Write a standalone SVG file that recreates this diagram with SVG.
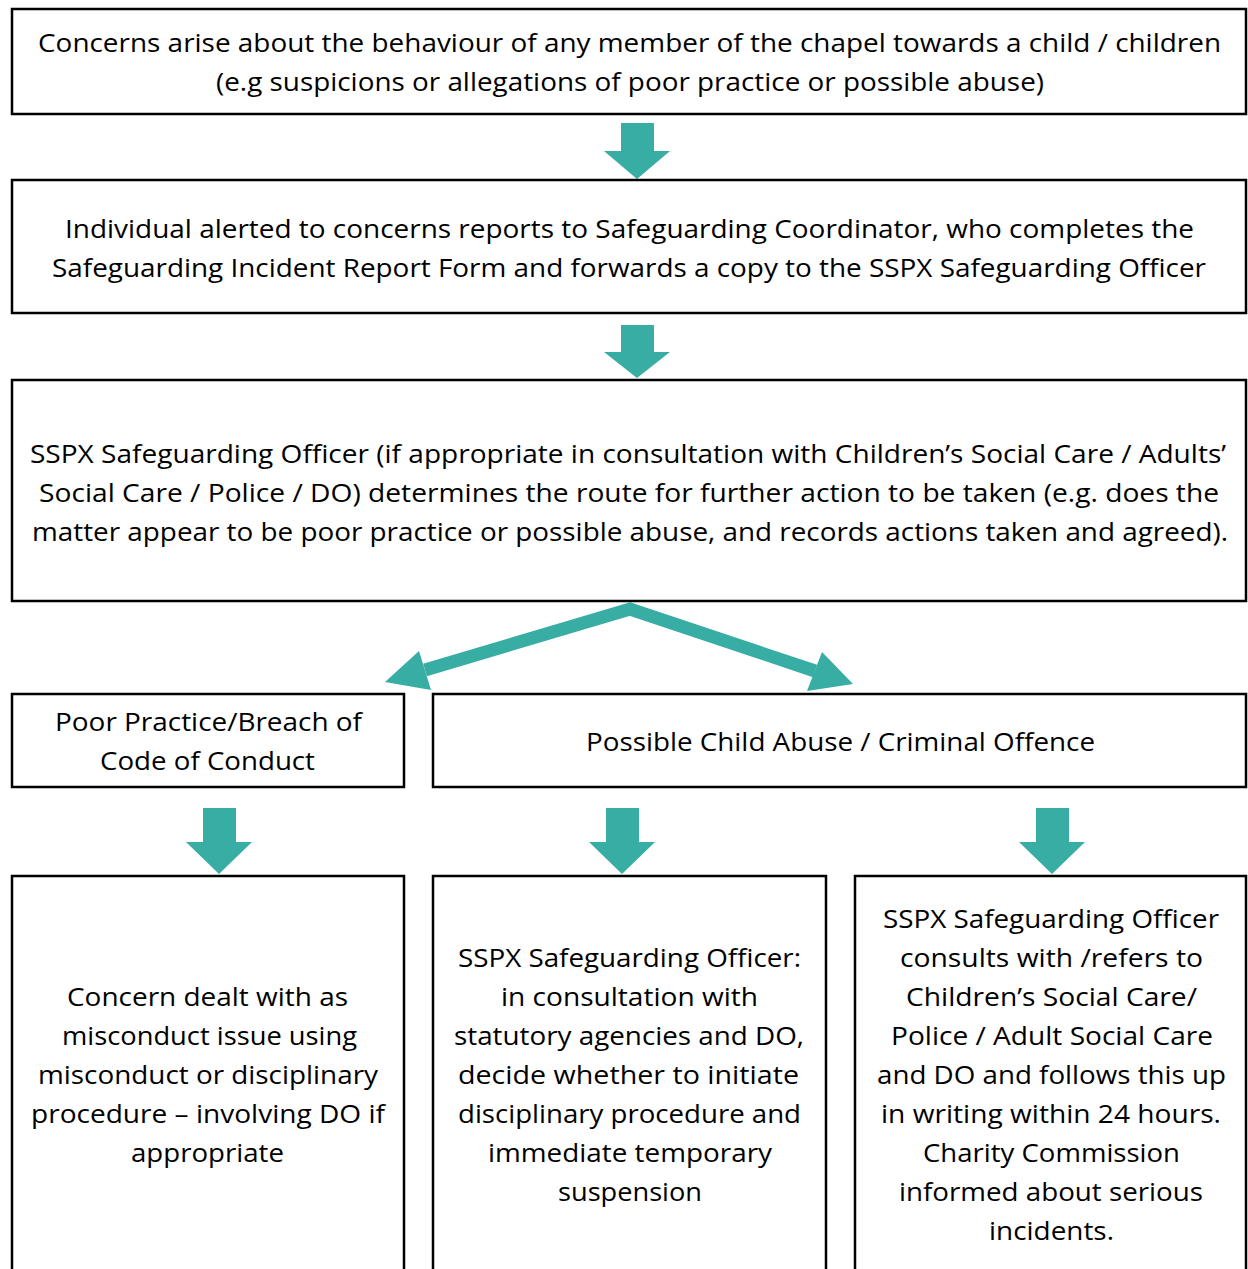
<svg xmlns="http://www.w3.org/2000/svg" width="1248" height="1269" viewBox="0 0 1248 1269">
<style>
.box{fill:#fff;stroke:#000;stroke-width:2.5}
.t{font-family:"Open Sans","Liberation Sans",sans-serif;font-size:26px;fill:#000;text-anchor:middle}
.ar{fill:#37ada4}
</style>
<rect width="1248" height="1269" fill="#fff"/>
<g id="connectors">
<polygon class="ar" points="621,123 654,123 654,151 670,151 637,179 604,151 621,151"/>
<polygon class="ar" points="621,325 654,325 654,352 670,352 637,378 604,352 621,352"/>
<polyline points="425,670 630,609 815,671" fill="none" stroke="#37ada4" stroke-width="13" stroke-linejoin="miter"/>
<polygon class="ar" points="419,651 431,690 385,682"/>
<polygon class="ar" points="822,652 807,691 853,684"/>
<polygon class="ar" points="203,808 236,808 236,842 252,842 219,874 186,842 203,842"/>
<polygon class="ar" points="606,808 639,808 639,842 655,842 622,874 589,842 606,842"/>
<polygon class="ar" points="1036,808 1069,808 1069,842 1085,842 1052,874 1019,842 1036,842"/>
</g>
<g id="n1">
<rect class="box" x="12" y="9" width="1234" height="105"/>
<text class="t" x="629.5" y="52" textLength="1183" lengthAdjust="spacingAndGlyphs">Concerns arise about the behaviour of any member of the chapel towards a child / children</text>
<text class="t" x="630" y="91" textLength="828" lengthAdjust="spacingAndGlyphs">(e.g suspicions or allegations of poor practice or possible abuse)</text>
</g>
<g id="n2">
<rect class="box" x="12" y="180" width="1234" height="133"/>
<text class="t" x="629.5" y="238" textLength="1129" lengthAdjust="spacingAndGlyphs">Individual alerted to concerns reports to Safeguarding Coordinator, who completes the</text>
<text class="t" x="629" y="277" textLength="1154" lengthAdjust="spacingAndGlyphs">Safeguarding Incident Report Form and forwards a copy to the SSPX Safeguarding Officer</text>
</g>
<g id="n3">
<rect class="box" x="12" y="380" width="1234" height="221"/>
<text class="t" x="628" y="463" textLength="1196" lengthAdjust="spacingAndGlyphs">SSPX Safeguarding Officer (if appropriate in consultation with Children’s Social Care / Adults’</text>
<text class="t" x="629" y="502" textLength="1180" lengthAdjust="spacingAndGlyphs">Social Care / Police / DO) determines the route for further action to be taken (e.g. does the</text>
<text class="t" x="630" y="541" textLength="1196" lengthAdjust="spacingAndGlyphs">matter appear to be poor practice or possible abuse, and records actions taken and agreed).</text>
</g>
<g id="n4">
<rect class="box" x="12" y="694" width="392" height="93"/>
<text class="t" x="208.5" y="731" textLength="307" lengthAdjust="spacingAndGlyphs">Poor Practice/Breach of</text>
<text class="t" x="207.5" y="770" textLength="215" lengthAdjust="spacingAndGlyphs">Code of Conduct</text>
</g>
<g id="n5">
<rect class="box" x="433" y="694" width="813" height="93"/>
<text class="t" x="840.5" y="751" textLength="509" lengthAdjust="spacingAndGlyphs">Possible Child Abuse / Criminal Offence</text>
</g>
<g id="n6">
<rect class="box" x="12" y="876" width="392" height="420"/>
<text class="t" x="207.5" y="1006" textLength="281" lengthAdjust="spacingAndGlyphs">Concern dealt with as</text>
<text class="t" x="209.5" y="1045" textLength="295" lengthAdjust="spacingAndGlyphs">misconduct issue using</text>
<text class="t" x="208" y="1084" textLength="340" lengthAdjust="spacingAndGlyphs">misconduct or disciplinary</text>
<text class="t" x="208" y="1123" textLength="354" lengthAdjust="spacingAndGlyphs">procedure – involving DO if</text>
<text class="t" x="207.5" y="1162" textLength="153" lengthAdjust="spacingAndGlyphs">appropriate</text>
</g>
<g id="n7">
<rect class="box" x="433" y="876" width="393" height="420"/>
<text class="t" x="629.5" y="967" textLength="343" lengthAdjust="spacingAndGlyphs">SSPX Safeguarding Officer:</text>
<text class="t" x="629.5" y="1006" textLength="257" lengthAdjust="spacingAndGlyphs">in consultation with</text>
<text class="t" x="629" y="1045" textLength="350" lengthAdjust="spacingAndGlyphs">statutory agencies and DO,</text>
<text class="t" x="628.5" y="1084" textLength="341" lengthAdjust="spacingAndGlyphs">decide whether to initiate</text>
<text class="t" x="629.5" y="1123" textLength="343" lengthAdjust="spacingAndGlyphs">disciplinary procedure and</text>
<text class="t" x="630" y="1162" textLength="284" lengthAdjust="spacingAndGlyphs">immediate temporary</text>
<text class="t" x="630" y="1201" textLength="144" lengthAdjust="spacingAndGlyphs">suspension</text>
</g>
<g id="n8">
<rect class="box" x="855" y="876" width="391" height="420"/>
<text class="t" x="1051" y="928" textLength="336" lengthAdjust="spacingAndGlyphs">SSPX Safeguarding Officer</text>
<text class="t" x="1051.5" y="967" textLength="303" lengthAdjust="spacingAndGlyphs">consults with /refers to</text>
<text class="t" x="1051.5" y="1006" textLength="291" lengthAdjust="spacingAndGlyphs">Children’s Social Care/</text>
<text class="t" x="1052" y="1045" textLength="322" lengthAdjust="spacingAndGlyphs">Police / Adult Social Care</text>
<text class="t" x="1051.5" y="1084" textLength="349" lengthAdjust="spacingAndGlyphs">and DO and follows this up</text>
<text class="t" x="1051" y="1123" textLength="340" lengthAdjust="spacingAndGlyphs">in writing within 24 hours.</text>
<text class="t" x="1051.5" y="1162" textLength="257" lengthAdjust="spacingAndGlyphs">Charity Commission</text>
<text class="t" x="1051" y="1201" textLength="304" lengthAdjust="spacingAndGlyphs">informed about serious</text>
<text class="t" x="1051.5" y="1240" textLength="125" lengthAdjust="spacingAndGlyphs">incidents.</text>
</g>
</svg>
